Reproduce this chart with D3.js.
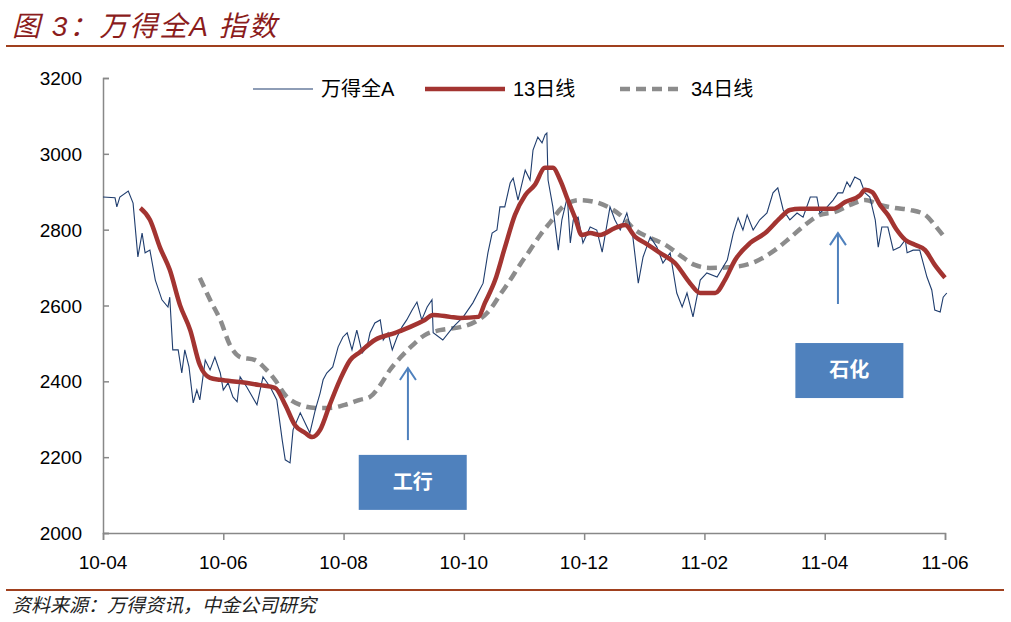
<!DOCTYPE html>
<html lang="zh">
<head>
<meta charset="utf-8">
<script src="https://cdn.jsdelivr.net/npm/d3@7"></script>
<style>
body { margin: 0; background: #fff; }
text { font-family: "Liberation Sans", Arial, "Noto Sans CJK SC", sans-serif; }
</style>
</head>
<body>
<script>
// x: months since 2010-04, y: index level
var tickLabels = ["10-04", "10-06", "10-08", "10-10", "10-12", "11-02", "11-04", "11-06"];
var yTicks = [2000, 2200, 2400, 2600, 2800, 3000, 3200];

var wind = [[0.00,2886],[0.20,2884],[0.23,2860],[0.28,2886],[0.42,2902],[0.50,2870],[0.58,2728],[0.65,2791],[0.70,2739],[0.78,2746],[0.87,2667],[0.98,2615],[1.08,2596],[1.11,2622],[1.16,2483],[1.25,2483],[1.31,2422],[1.36,2483],[1.43,2438],[1.50,2343],[1.56,2377],[1.61,2351],[1.70,2456],[1.78,2430],[1.86,2464],[1.95,2422],[2.00,2377],[2.08,2396],[2.16,2359],[2.23,2346],[2.28,2412],[2.39,2385],[2.56,2338],[2.66,2412],[2.78,2385],[2.89,2351],[2.98,2245],[3.03,2193],[3.11,2185],[3.16,2272],[3.28,2317],[3.39,2280],[3.44,2264],[3.53,2325],[3.61,2369],[3.66,2404],[3.72,2422],[3.82,2438],[3.91,2491],[3.99,2517],[4.06,2528],[4.14,2483],[4.22,2535],[4.31,2475],[4.39,2491],[4.44,2528],[4.52,2554],[4.61,2562],[4.66,2509],[4.74,2528],[4.81,2483],[4.89,2517],[4.97,2543],[5.05,2562],[5.14,2588],[5.22,2609],[5.30,2562],[5.39,2596],[5.47,2615],[5.49,2528],[5.65,2509],[5.82,2543],[5.99,2570],[6.15,2607],[6.32,2659],[6.40,2739],[6.47,2791],[6.55,2799],[6.60,2860],[6.68,2860],[6.77,2923],[6.82,2936],[6.90,2878],[7.02,2957],[7.10,2931],[7.15,3010],[7.23,3044],[7.30,3029],[7.35,3050],[7.38,3055],[7.40,2931],[7.48,2860],[7.57,2746],[7.63,2826],[7.72,2886],[7.77,2765],[7.82,2826],[7.90,2833],[7.98,2765],[8.10,2807],[8.21,2799],[8.30,2741],[8.43,2860],[8.51,2826],[8.60,2799],[8.71,2844],[8.81,2781],[8.90,2659],[8.98,2728],[9.10,2781],[9.21,2754],[9.31,2712],[9.43,2739],[9.54,2633],[9.63,2596],[9.71,2633],[9.81,2570],[9.93,2667],[10.04,2686],[10.21,2675],[10.38,2720],[10.48,2791],[10.56,2831],[10.64,2799],[10.71,2839],[10.81,2799],[10.92,2826],[11.04,2844],[11.14,2897],[11.22,2910],[11.31,2852],[11.42,2826],[11.54,2844],[11.64,2833],[11.76,2886],[11.87,2886],[11.92,2844],[12.04,2860],[12.14,2878],[12.22,2897],[12.30,2897],[12.37,2926],[12.42,2913],[12.50,2939],[12.59,2931],[12.67,2897],[12.75,2886],[12.84,2826],[12.89,2754],[12.95,2807],[13.05,2807],[13.14,2746],[13.25,2754],[13.34,2773],[13.37,2739],[13.47,2746],[13.58,2746],[13.70,2675],[13.78,2641],[13.83,2588],[13.92,2583],[13.97,2622],[14.03,2633]];

var ma13 = [[0.62,2857],[0.78,2826],[0.95,2752],[1.11,2694],[1.28,2601],[1.45,2535],[1.61,2443],[1.78,2409],[1.95,2404],[2.28,2398],[2.61,2390],[2.86,2383],[3.03,2338],[3.19,2285],[3.36,2264],[3.48,2253],[3.61,2272],[3.77,2338],[3.94,2404],[4.11,2456],[4.27,2477],[4.52,2509],[4.86,2528],[5.10,2543],[5.35,2562],[5.49,2575],[5.77,2570],[5.94,2567],[6.24,2570],[6.35,2607],[6.52,2667],[6.68,2752],[6.85,2839],[7.02,2891],[7.18,2918],[7.35,2963],[7.48,2963],[7.60,2931],[7.73,2878],[7.85,2831],[7.96,2786],[8.10,2791],[8.26,2786],[8.51,2804],[8.68,2812],[8.85,2781],[9.01,2765],[9.26,2739],[9.51,2712],[9.76,2659],[9.93,2633],[10.18,2633],[10.34,2667],[10.51,2720],[10.76,2765],[11.01,2791],[11.26,2831],[11.42,2852],[11.59,2855],[12.14,2855],[12.34,2873],[12.59,2891],[12.67,2905],[12.79,2899],[12.92,2865],[13.05,2839],[13.20,2799],[13.34,2773],[13.50,2760],[13.67,2746],[13.83,2707],[14.00,2673]];

var ma34 = [[1.61,2673],[1.78,2615],[1.95,2562],[2.11,2496],[2.28,2464],[2.53,2456],[2.69,2435],[2.86,2404],[3.03,2364],[3.28,2338],[3.53,2330],[3.77,2330],[4.02,2338],[4.27,2351],[4.44,2359],[4.61,2390],[4.77,2430],[4.94,2462],[5.10,2488],[5.35,2522],[5.60,2535],[5.94,2543],[6.19,2557],[6.43,2588],[6.60,2628],[6.77,2667],[6.93,2707],[7.10,2746],[7.27,2786],[7.43,2818],[7.68,2865],[7.93,2878],[8.18,2873],[8.43,2857],[8.60,2839],[8.85,2799],[9.10,2778],[9.35,2760],[9.59,2733],[9.84,2707],[10.09,2699],[10.51,2702],[10.84,2715],[11.17,2746],[11.42,2778],[11.67,2812],[11.92,2839],[12.17,2847],[12.42,2865],[12.67,2878],[12.92,2865],[13.17,2857],[13.42,2852],[13.67,2839],[13.83,2812],[14.00,2778]];

// arrow: x (month), tip and tail level; box centre (month) and top level
var notes = [
	{label: "工行", m: 5.07, tip: 2435, tail: 2245, bm: 5.15, boxTop: 2206},
	{label: "石化", m: 12.22, tip: 2791, tail: 2604, bm: 12.41, boxTop: 2501}
];

var svg = d3.select("body").append("svg").attr("width", 1011).attr("height", 622);

var x = d3.scaleLinear().domain([0, 14]).range([103, 945]);
var y = d3.scaleLinear().domain([2000, 3200]).range([533, 78]);

// title and rules
svg.append("text").attr("x", 12).attr("y", 36).attr("fill", "#8b1c1c")
	.style("font-size", "28px").style("font-style", "italic").style("letter-spacing", "2px")
	.text("图 3：万得全A 指数");
svg.append("line").attr("x1", 6).attr("x2", 1004).attr("y1", 46).attr("y2", 46)
	.attr("stroke", "#a0401e").attr("stroke-width", 2);
svg.append("line").attr("x1", 6).attr("x2", 1004).attr("y1", 590).attr("y2", 590)
	.attr("stroke", "#a0401e").attr("stroke-width", 2);
svg.append("text").attr("x", 12).attr("y", 612).attr("fill", "#222")
	.style("font-size", "19px").style("font-style", "italic")
	.text("资料来源：万得资讯，中金公司研究");

// axes
var yAxis = svg.append("g").attr("transform", "translate(103,0)")
	.call(d3.axisRight(y).tickValues(yTicks).tickSize(6).tickFormat(""));
yAxis.selectAll("line, path").attr("stroke", "#888").attr("stroke-width", 1.5);
svg.selectAll(".ylab").data(yTicks).enter().append("text")
	.attr("x", 82).attr("y", function(d) { return y(d) + 7; })
	.attr("text-anchor", "end").style("font-size", "19px").text(function(d) { return d; });

var xAxis = svg.append("g").attr("transform", "translate(0,533)")
	.call(d3.axisBottom(x).tickValues(d3.range(0, 15, 2)).tickSize(7).tickFormat(""));
xAxis.selectAll("line, path").attr("stroke", "#888").attr("stroke-width", 1.5);
svg.selectAll(".xlab").data(tickLabels).enter().append("text")
	.attr("x", function(d, i) { return x(i * 2); }).attr("y", 569)
	.attr("text-anchor", "middle").style("font-size", "19px").text(function(d) { return d; });

var line = d3.line().x(function(d) { return x(d[0]); }).y(function(d) { return y(d[1]); });

svg.append("path").datum(ma34).attr("d", line.curve(d3.curveMonotoneX)).attr("fill", "none")
	.attr("stroke", "#8c8c8c").attr("stroke-width", 4.5).attr("stroke-dasharray", "10,6");
svg.append("path").datum(wind).attr("d", line.curve(d3.curveLinear)).attr("fill", "none")
	.attr("stroke", "#1f3d6e").attr("stroke-width", 1.1);
svg.append("path").datum(ma13).attr("d", line.curve(d3.curveMonotoneX)).attr("fill", "none")
	.attr("stroke", "#a33431").attr("stroke-width", 4.5);

// legend
var legend = [
	{name: "万得全A", x1: 253, x2: 313, color: "#1f3d6e", w: 1.1, dash: null},
	{name: "13日线", x1: 425, x2: 505, color: "#a33431", w: 4.5, dash: null},
	{name: "34日线", x1: 620, x2: 683, color: "#8c8c8c", w: 4.5, dash: "10,6"}
];
legend.forEach(function(l) {
	svg.append("line").attr("x1", l.x1).attr("x2", l.x2).attr("y1", 89).attr("y2", 89)
		.attr("stroke", l.color).attr("stroke-width", l.w).attr("stroke-dasharray", l.dash);
	svg.append("text").attr("x", l.x2 + 8).attr("y", 96).style("font-size", "20px").text(l.name);
});

// annotations
notes.forEach(function(n) {
	var cx = x(n.m), top = y(n.tip), bx = x(n.bm), by = y(n.boxTop);
	svg.append("line").attr("x1", cx).attr("x2", cx).attr("y1", top).attr("y2", y(n.tail))
		.attr("stroke", "#4f81bd").attr("stroke-width", 2);
	svg.append("path").attr("d", "M" + (cx - 8) + "," + (top + 12) + "L" + cx + "," + top + "L" + (cx + 8) + "," + (top + 12))
		.attr("fill", "none").attr("stroke", "#4f81bd").attr("stroke-width", 2);
	svg.append("rect").attr("x", bx - 54).attr("y", by).attr("width", 108).attr("height", 55)
		.attr("fill", "#4f81bd");
	svg.append("text").attr("x", bx).attr("y", by + 34).attr("text-anchor", "middle")
		.attr("fill", "#fff").style("font-size", "20px").style("font-weight", "bold").text(n.label);
});
</script>
</body>
</html>
